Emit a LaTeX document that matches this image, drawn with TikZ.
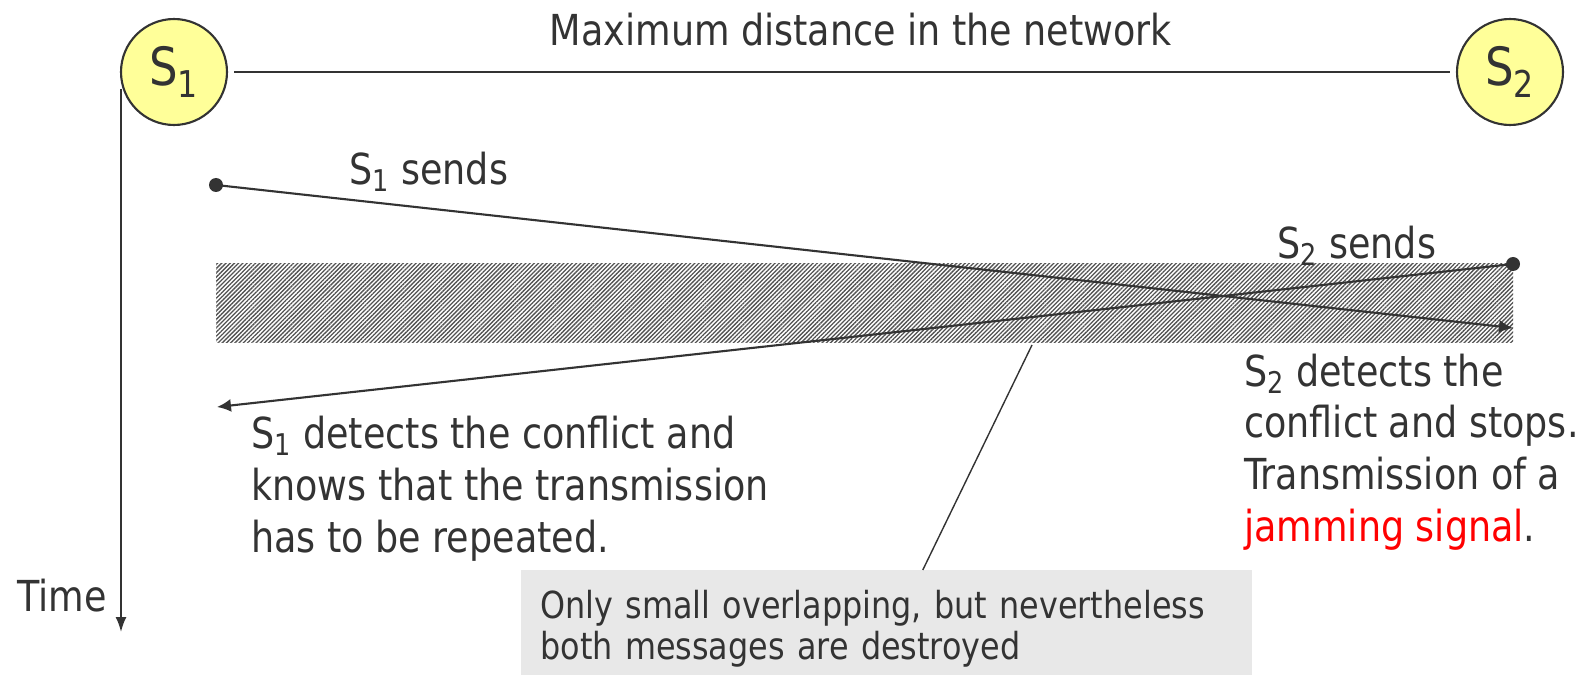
\documentclass[tikz,border=0pt]{standalone}
\usepackage{fontspec}
\setmainfont{DejaVu Sans Condensed}[FakeStretch=0.95]
\usepackage{tikz}
\usetikzlibrary{positioning, arrows.meta, patterns.meta}
\definecolor{inkgray}{RGB}{51,51,51}
\definecolor{stationyellow}{RGB}{255,255,153}
\definecolor{notegray}{RGB}{232,232,232}
\definecolor{jamred}{RGB}{255,0,0}

\begin{document}
\begin{tikzpicture}[x=0.02cm, y=-0.02cm,
    every node/.style={font=\fontsize{24.3}{29.5}\selectfont, text=inkgray},
    station/.style={circle, draw=inkgray, fill=stationyellow, line width=1.2pt,
                    minimum size=2.12cm, inner sep=0pt,
                    font=\fontsize{30}{36}\selectfont},
    link/.style={draw=inkgray, line width=1.7pt},
    axis/.style={draw=inkgray, line width=1.1pt, -{Latex[length=0.3cm,width=0.22cm]}},
    msg/.style={draw=inkgray, line width=1.2pt, -{Latex[length=0.28cm,width=0.26cm]}},
    dot/.style={circle, fill=inkgray, inner sep=0pt, minimum size=0.28cm},
    lbl/.style={align=left, inner sep=0pt},
    note/.style={fill=notegray, align=left, inner xsep=0.38cm, inner ysep=0pt,
                 text width=13.86cm, minimum height=2.34cm,
                 font=\fontsize{21.2}{23.2}\selectfont},
    band/.style={pattern={Lines[angle=45, distance=1.7pt, line width=0.75pt]},
                 pattern color=inkgray!85},
    edge/.style={draw=inkgray, line width=0.8pt},
  ]
    \useasboundingbox (0,0) rectangle (1589,675);
    % stations and the cable between them
    \node[station] (S1) at (174,72) {S\textsubscript{1}};
    \node[station] (S2) at (1510,72) {S\textsubscript{2}};
    \draw[link, shorten <=0.12cm, shorten >=0.12cm] (S1) -- (S2);
    \node (dist) at (861,30) {Maximum distance in the network};
    % time axis
    \coordinate (t0) at (121,89);
    \coordinate (t1) at (121,632);
    \draw[axis] (t0) -- (t1);
    \node[anchor=east, inner sep=0pt] (time) at (107,596) {Time};
    % collision zone
    \path[band] (216,264) rectangle (1513,343);
    % the two frames
    \node[dot] (a1) at (216,185) {};
    \coordinate (a2) at (1513,328);
    \node[dot] (b2) at (1513,264) {};
    \coordinate (b1) at (217,407);
    \draw[msg] (a1.center) -- (a2);
    \draw[msg] (b2.center) -- (b1);
    \node[lbl, anchor=west] (s1send) at (349,172) {S\textsubscript{1} sends};
    \node[lbl, anchor=west] (s2send) at (1277,246) {S\textsubscript{2} sends};
    % what the stations notice
    \node[lbl, anchor=west] (s1det) at (251,489)
      {S\textsubscript{1} detects the conflict and\\knows that the transmission\\has to be repeated.};
    \node[lbl, anchor=west] (s2det) at (1244,452)
      {S\textsubscript{2} detects the\\conflict and stops.\\Transmission of a\\\textcolor{jamred}{jamming signal}.};
    % remark on the overlap
    \node[note, anchor=north west] (note) at (521,570)
      {Only small overlapping, but nevertheless\\both messages are destroyed};
    \coordinate (ov) at (1032,345);
    \draw[edge] (ov) -- ([xshift=0.72cm]note.north);
  \end{tikzpicture}
\end{document}
